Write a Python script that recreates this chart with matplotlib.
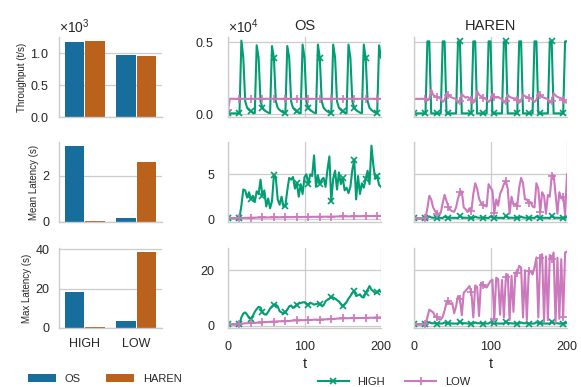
import numpy as np
import matplotlib
matplotlib.use('Agg')
import matplotlib.pyplot as plt

plt.rcParams.update({
    'font.family': ['Liberation Sans', 'DejaVu Sans'],
    'mathtext.default': 'regular',
    'text.color': '#262626',
    'axes.labelcolor': '#262626',
    'xtick.color': '#262626',
    'ytick.color': '#262626',
    'axes.edgecolor': '#cccccc',
    'axes.linewidth': 1.0,
    'axes.grid': True,
    'axes.axisbelow': True,
    'grid.color': '#cccccc',
    'grid.linewidth': 0.9,
    'axes.spines.top': False,
    'axes.spines.right': False,
    'xtick.major.size': 0,
    'ytick.major.size': 0,
})

# ---- bar data (left column) ----
categories = ['HIGH', 'LOW']
bar_thr_os = [1170, 970]
bar_thr_haren = [1195, 960]
bar_mean_os = [3.3, 0.19]
bar_mean_haren = [0.06, 2.6]
bar_max_os = [18.0, 3.7]
bar_max_haren = [0.6, 38.6]

# ---- time series (t every 2.5 s) ----
t = np.arange(0, 202.5, 2.5)

thr_os_high = [
    70, 70, 70, 70, 70, 70, 70, 5070, 3900, 900,
    450, 300, 200, 120, 80, 4750, 3900, 900, 450, 300,
    200, 120, 80, 4700, 3900, 900, 450, 300, 200, 120,
    80, 4700, 3900, 900, 450, 300, 200, 120, 80, 4800,
    3900, 900, 450, 300, 200, 120, 80, 4800, 3900, 900,
    450, 300, 200, 120, 80, 4800, 3900, 900, 450, 300,
    200, 120, 80, 4800, 3900, 900, 450, 300, 200, 120,
    80, 4800, 3900, 900, 450, 300, 200, 120, 80, 4750,
    3900]
thr_os_low = [
    300, 1070, 1075, 1070, 1068, 1072, 1070, 1070, 1075, 1070,
    1068, 1070, 1072, 1070, 1070, 1075, 1070, 1068, 1070, 1072,
    1070, 1070, 1075, 1070, 1068, 1070, 1072, 1070, 1070, 1075,
    1070, 1068, 1070, 1072, 1070, 1070, 1075, 1070, 1068, 1070,
    1072, 1070, 1070, 1075, 1070, 1068, 1070, 1072, 1070, 1070,
    1075, 1070, 1068, 1070, 1072, 1070, 1070, 1075, 1070, 1068,
    1070, 1072, 1070, 1070, 1075, 1070, 1068, 1070, 1072, 1070,
    1070, 1075, 1070, 1068, 1070, 1072, 1070, 1070, 1075, 1070,
    1070]
thr_haren_high = [
    70, 70, 70, 70, 70, 70, 70, 5020, 5020, 70,
    70, 70, 70, 70, 70, 5020, 5020, 70, 70, 70,
    70, 70, 70, 5020, 5020, 70, 70, 70, 70, 70,
    70, 5020, 5020, 70, 70, 70, 70, 70, 70, 5020,
    5020, 70, 70, 70, 70, 70, 70, 5020, 5020, 70,
    70, 70, 70, 70, 70, 5020, 5020, 70, 70, 70,
    70, 70, 70, 5020, 5020, 70, 70, 70, 70, 70,
    70, 5020, 5020, 70, 70, 70, 70, 70, 70, 5020,
    5020]
thr_haren_low = [
    1070, 1070, 1070, 1070, 1070, 1070, 1060, 950, 1050, 1700,
    1350, 1250, 1200, 1150, 1050, 850, 1000, 1450, 1300, 1200,
    1150, 1100, 1050, 800, 950, 1400, 1250, 1150, 1200, 1100,
    1000, 800, 950, 1600, 1350, 1250, 1150, 1100, 1000, 850,
    1000, 1400, 1200, 1150, 1200, 1100, 1050, 800, 950, 1350,
    1200, 1150, 1100, 1100, 1000, 800, 950, 1350, 1250, 1200,
    1150, 1100, 1000, 850, 1000, 1450, 1300, 1200, 1150, 1100,
    1050, 800, 950, 1450, 1300, 1200, 1150, 1100, 1000, 850,
    800]

mean_os_high = [
    0.1, 0.1, 0.1, 0.1, 0.1, 0.1, 0.15, 1.5, 3.3, 3.2,
    2.4, 3.0, 2.2, 2.6, 1.9, 3.1, 2.8, 4.4, 2.6, 3.2,
    1.4, 2.3, 1.2, 2.0, 4.9, 4.6, 2.2, 1.6, 2.5, 1.4,
    1.5, 3.2, 4.6, 4.4, 4.7, 3.4, 4.0, 2.5, 3.9, 2.8,
    4.7, 5.0, 3.9, 5.0, 4.8, 7.1, 3.6, 4.9, 3.9, 4.4,
    4.6, 3.6, 5.5, 7.0, 2.0, 4.5, 5.4, 3.3, 5.2, 3.9,
    4.6, 3.2, 3.5, 2.9, 3.6, 5.5, 6.6, 2.2, 4.8, 2.8,
    4.0, 3.5, 4.5, 5.4, 3.9, 8.2, 6.0, 4.5, 4.8, 3.8,
    3.6]
mean_os_low = [
    0.10, 0.10, 0.10, 0.10, 0.10, 0.10, 0.10, 0.12, 0.13, 0.14,
    0.14, 0.15, 0.15, 0.16, 0.16, 0.17, 0.17, 0.17, 0.18, 0.18,
    0.18, 0.19, 0.19, 0.19, 0.20, 0.20, 0.20, 0.20, 0.21, 0.21,
    0.21, 0.22, 0.22, 0.22, 0.22, 0.23, 0.23, 0.23, 0.23, 0.24,
    0.24, 0.24, 0.25, 0.25, 0.25, 0.25, 0.26, 0.26, 0.26, 0.26,
    0.27, 0.27, 0.27, 0.27, 0.28, 0.28, 0.28, 0.29, 0.29, 0.29,
    0.29, 0.30, 0.30, 0.30, 0.30, 0.31, 0.31, 0.31, 0.32, 0.32,
    0.32, 0.32, 0.33, 0.33, 0.33, 0.33, 0.34, 0.34, 0.34, 0.35,
    0.35]
mean_haren_high = [
    0.08, 0.08, 0.08, 0.08, 0.08, 0.08, 0.08, 0.10, 0.30, 0.18,
    0.15, 0.15, 0.14, 0.14, 0.14, 0.12, 0.28, 0.18, 0.15, 0.15,
    0.14, 0.14, 0.14, 0.12, 0.35, 0.20, 0.15, 0.15, 0.14, 0.14,
    0.14, 0.12, 0.28, 0.18, 0.15, 0.15, 0.14, 0.14, 0.14, 0.12,
    0.30, 0.18, 0.15, 0.15, 0.14, 0.14, 0.14, 0.12, 0.35, 0.20,
    0.15, 0.15, 0.14, 0.14, 0.14, 0.12, 0.28, 0.18, 0.15, 0.15,
    0.14, 0.14, 0.14, 0.12, 0.30, 0.18, 0.15, 0.15, 0.14, 0.14,
    0.14, 0.12, 0.35, 0.20, 0.15, 0.15, 0.14, 0.14, 0.14, 0.12,
    0.28]
mean_haren_low = [
    0.08, 0.08, 0.08, 0.08, 0.08, 0.08, 0.1, 1.2, 2.6, 2.2,
    1.3, 0.9, 0.6, 0.6, 0.7, 1.8, 2.7, 2.0, 1.4, 1.0,
    0.9, 0.8, 1.3, 2.3, 3.0, 3.1, 1.3, 1.1, 0.8, 1.2,
    0.9, 2.8, 4.0, 3.4, 2.3, 1.8, 1.6, 1.5, 1.4, 3.9,
    3.5, 3.2, 0.7, 2.2, 1.5, 2.8, 3.3, 3.9, 4.3, 3.4,
    0.6, 2.5, 1.6, 1.7, 1.5, 3.5, 4.6, 4.0, 2.2, 2.2,
    1.8, 1.9, 1.4, 1.3, 4.0, 3.4, 0.8, 3.0, 2.6, 0.6,
    2.7, 2.5, 4.8, 4.9, 2.8, 0.6, 3.0, 2.3, 2.5, 0.5,
    5.0]

max_os_high = [
    0.5, 0.5, 0.5, 0.5, 0.5, 0.5, 0.6, 3.0, 4.4, 4.8,
    4.0, 2.8, 2.6, 3.6, 5.0, 6.0, 6.8, 6.6, 4.8, 4.2,
    4.0, 5.0, 6.2, 7.0, 7.5, 7.6, 7.0, 5.2, 4.8, 4.4,
    4.8, 5.8, 7.0, 7.3, 6.4, 7.0, 7.6, 8.0, 8.2, 8.4,
    8.5, 7.8, 7.6, 8.2, 8.0, 7.6, 7.8, 8.0, 7.8, 7.2,
    7.4, 8.8, 9.4, 9.8, 10.4, 10.2, 9.8, 9.2, 8.8, 7.8,
    7.0, 7.8, 8.5, 9.8, 10.7, 11.8, 12.5, 10.7, 11.0, 11.3,
    10.3, 10.2, 11.9, 13.0, 14.3, 13.0, 12.4, 11.8, 12.0, 12.6,
    12.2]
max_os_low = [
    0.5, 0.5, 0.5, 0.5, 0.5, 0.5, 0.5, 0.7, 0.8, 0.9,
    0.9, 1.0, 1.0, 1.0, 1.0, 1.1, 1.1, 1.1, 1.2, 1.3,
    1.3, 1.4, 1.4, 1.5, 1.5, 1.5, 1.6, 1.6, 1.6, 1.6,
    1.6, 1.7, 1.7, 1.8, 1.9, 1.9, 1.9, 1.9, 2.0, 2.0,
    2.0, 2.1, 2.1, 2.1, 2.1, 2.2, 2.2, 2.2, 2.2, 2.3,
    2.3, 2.3, 2.3, 2.4, 2.4, 2.4, 2.5, 2.6, 2.6, 2.6,
    2.7, 2.7, 2.7, 2.7, 2.8, 2.8, 2.8, 2.7, 2.8, 2.8,
    2.8, 2.8, 2.9, 2.8, 2.9, 2.9, 2.9, 3.0, 2.9, 3.0,
    3.0]
max_haren_high = [
    0.5, 0.5, 0.5, 0.5, 0.5, 0.5, 0.5, 0.6, 1.3, 0.9,
    0.9, 0.9, 0.8, 0.8, 0.8, 0.8, 1.2, 0.9, 0.9, 0.9,
    0.8, 0.8, 0.8, 0.8, 1.5, 1.0, 0.9, 0.9, 0.8, 0.8,
    0.8, 0.8, 1.2, 0.9, 0.9, 0.9, 0.8, 0.8, 0.8, 0.8,
    1.3, 0.9, 0.9, 0.9, 0.8, 0.8, 0.8, 0.8, 1.5, 1.0,
    0.9, 0.9, 0.8, 0.8, 0.8, 0.8, 1.2, 0.9, 0.9, 0.9,
    0.8, 0.8, 0.8, 0.8, 1.3, 0.9, 0.9, 0.9, 0.8, 0.8,
    0.8, 0.8, 1.5, 1.0, 0.9, 0.9, 0.8, 0.8, 0.8, 0.8,
    1.2]
max_haren_low = [
    0.5, 0.5, 0.5, 0.5, 0.5, 0.5, 0.6, 3.0, 5.8, 5.3,
    4.8, 3.4, 3.2, 2.4, 2.2, 3.2, 5.5, 8.4, 8.8, 7.8,
    8.2, 4.5, 7.0, 10.7, 9.6, 3.8, 11.9, 12.6, 13.4, 14.3,
    12.0, 3.0, 14.5, 14.0, 3.5, 15.5, 14.8, 14.0, 13.8, 15.0,
    16.1, 16.6, 2.5, 17.3, 16.8, 4.0, 16.5, 3.0, 17.5, 18.5,
    2.0, 18.0, 5.0, 19.2, 19.0, 21.6, 21.0, 3.0, 20.0, 2.0,
    19.8, 19.5, 18.5, 21.0, 24.6, 3.0, 24.5, 25.8, 1.5, 25.0,
    2.0, 25.5, 24.0, 26.4, 1.0, 24.5, 2.5, 24.0, 3.0, 26.4,
    26.7]

os_color = '#176d9c'
haren_color = '#ba611b'
high_color = '#029e73'
low_color = '#cc78bc'

W, H = 581, 387
fig = plt.figure(figsize=(W / 100, H / 100), dpi=100)

col_x = [59, 228, 414]
col_w = [103, 153, 153]
row_top = [37, 142, 248]
row_h = 80

def rect(c, r):
    return [col_x[c] / W, 1 - (row_top[r] + row_h) / H, col_w[c] / W, row_h / H]

# left column: bars
bar_rows = [
    (bar_thr_os, bar_thr_haren, 'Throughput (t/s)', [0, 500, 1000]),
    (bar_mean_os, bar_mean_haren, 'Mean Latency (s)', [0, 2]),
    (bar_max_os, bar_max_haren, 'Max Latency (s)', [0, 20, 40]),
]
x = np.arange(len(categories))
bar_axes = []
for r, (os_vals, haren_vals, ylabel, yt) in enumerate(bar_rows):
    ax = fig.add_axes(rect(0, r))
    ax.bar(x - 0.2, os_vals, 0.38, color=os_color, label='OS')
    ax.bar(x + 0.2, haren_vals, 0.38, color=haren_color, label='HAREN')
    ax.set_xlim(-0.5, 1.5)
    ax.xaxis.grid(False)
    ax.set_yticks(yt)
    ax.set_ylabel(ylabel, fontsize=7, labelpad=2.5)
    ax.tick_params(axis='y', labelsize=9, pad=7)
    ax.tick_params(axis='x', labelsize=9, pad=7)
    if r == 2:
        ax.set_xticks(x, categories)
    else:
        ax.set_xticks(x, ['', ''])
    bar_axes.append(ax)
bar_axes[0].ticklabel_format(axis='y', style='sci', scilimits=(3, 3), useMathText=True)

# middle and right columns: time series
series = [
    [(thr_os_high, thr_os_low), (thr_haren_high, thr_haren_low)],
    [(mean_os_high, mean_os_low), (mean_haren_high, mean_haren_low)],
    [(max_os_high, max_os_low), (max_haren_high, max_haren_low)],
]
row_yticks = [[0, 5000], [0, 5], [0, 20]]
first = None
line_axes = []
for r in range(3):
    row_first = None
    for c in range(2):
        ax = fig.add_axes(rect(c + 1, r), sharex=first, sharey=row_first)
        if first is None:
            first = ax
        if row_first is None:
            row_first = ax
        high, low = series[r][c]
        ax.plot(t, high, color=high_color, lw=1.5, marker='x', ms=5, mew=1.2,
                markevery=6, label='HIGH')
        ax.plot(t, low, color=low_color, lw=1.5, marker='+', ms=6, mew=1.2,
                markevery=6, label='LOW')
        ax.set_xlim(0, 200)
        ax.set_xticks([0, 100, 200])
        ax.set_yticks(row_yticks[r])
        ax.tick_params(axis='y', labelsize=9, pad=10)
        ax.tick_params(axis='x', labelsize=9, pad=9)
        if c == 1:
            ax.tick_params(axis='y', labelleft=False)
            ax.yaxis.offsetText.set_visible(False)
        if r < 2:
            ax.tick_params(axis='x', labelbottom=False)
        else:
            ax.set_xlabel('t', fontsize=10.5, labelpad=3)
        if r == 0:
            ax.set_title('OS' if c == 0 else 'HAREN', fontsize=10.5, pad=5)
        line_axes.append(ax)
line_axes[0].ticklabel_format(axis='y', style='sci', scilimits=(4, 4), useMathText=True)

h, l = bar_axes[0].get_legend_handles_labels()
fig.legend(h, l, loc='center', bbox_to_anchor=(105 / W, 1 - 379 / H), ncol=2,
           frameon=False, fontsize=8, handlelength=2.5, handleheight=0.7,
           columnspacing=2.3)
h, l = line_axes[0].get_legend_handles_labels()
fig.legend(h, l, loc='center', bbox_to_anchor=(394 / W, 1 - 382 / H), ncol=2,
           frameon=False, fontsize=8, handlelength=2.8, columnspacing=1.8)

fig.savefig('out.png', dpi=100)
